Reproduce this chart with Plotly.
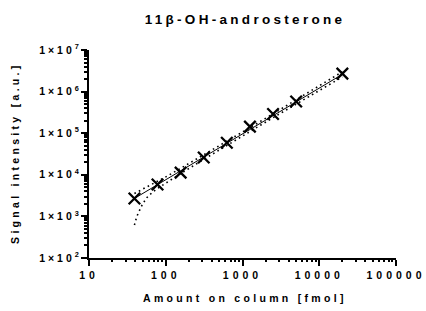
import plotly.graph_objects as go

# Measured points
amount_fmol = [39.06, 78.13, 156.25, 312.5, 625, 1250, 2500, 5000, 20000]
signal = [2700, 5850, 11300, 26000, 59000, 144000, 290000, 580000, 2700000]

# Fit line and confidence band
fit_x = [39.06, 42, 46, 50, 57, 67, 78.13, 100, 156.25, 312.5, 625, 1250, 2500, 5000, 10000, 20000]
fit_y = [2700, 2920, 3230, 3550, 4090, 4860, 5780, 7550, 12400, 26600, 57300, 122800, 263000, 565000, 1210000, 2600000]
upper_y = [3550, 3800, 4150, 4500, 5100, 5950, 6950, 8900, 14300, 30000, 63500, 136000, 292000, 635000, 1380000, 3000000]
lower_y = [620, 1000, 1450, 2000, 2850, 3800, 4700, 6350, 10700, 23500, 51500, 110500, 236000, 500000, 1060000, 2250000]

title = "11β-OH-androsterone"
x_title = "Amount on column [fmol]"
y_title = "Signal intensity [a.u.]"
x_tickvals = [10, 100, 1000, 10000, 100000]
x_ticktext = ["10", "100", "1000", "10000", "100000"]
y_tickvals = [1e2, 1e3, 1e4, 1e5, 1e6, 1e7]
y_ticktext = ["1×10<sup>2</sup>", "1×10<sup>3</sup>", "1×10<sup>4</sup>",
              "1×10<sup>5</sup>", "1×10<sup>6</sup>", "1×10<sup>7</sup>"]

FONT = "Liberation Sans, Arial, sans-serif"
W, H = 426, 311
L, R, T, B = 89, 26, 50, 53
pw, ph = W - L - R, H - T - B

x_minor = [m * 10 ** e for e in range(1, 5) for m in range(2, 10)]
y_minor = [m * 10 ** e for e in range(2, 7) for m in range(2, 10)]

fig = go.Figure()
fig.add_trace(go.Scatter(x=fit_x, y=upper_y, mode="lines",
                         line=dict(color="black", width=1.6, dash="1.6px,3.4px"), showlegend=False))
fig.add_trace(go.Scatter(x=fit_x, y=lower_y, mode="lines",
                         line=dict(color="black", width=1.6, dash="1.6px,3.4px"), showlegend=False))
fig.add_trace(go.Scatter(x=fit_x, y=fit_y, mode="lines",
                         line=dict(color="black", width=1), showlegend=False))
fig.add_trace(go.Scatter(x=amount_fmol, y=signal, mode="markers",
                         marker=dict(symbol="x-thin", size=11.5, color="black",
                                     line=dict(color="black", width=2.3)),
                         showlegend=False))
# invisible trace to activate minor-tick axes
fig.add_trace(go.Scatter(x=[fit_x[0]], y=[fit_y[0]], xaxis="x2", yaxis="y2",
                         mode="markers", marker=dict(opacity=0), showlegend=False,
                         hoverinfo="skip"))

common = dict(showgrid=False, zeroline=False, tickcolor="black")
fig.update_layout(
    width=W, height=H,
    margin=dict(l=L, r=R, t=T, b=B),
    paper_bgcolor="white", plot_bgcolor="white",
    font=dict(family=FONT, color="black", size=10.5),
    title=dict(text="<b>" + title + "</b>", x=245 / W, xanchor="center",
               y=1 - 19 / H, yanchor="middle",
               font=dict(size=13.5, family=FONT, color="black")),
    xaxis=dict(type="log", range=[1, 5], tickvals=x_tickvals,
               ticktext=["<b>" + t + "</b>" for t in x_ticktext],
               showline=True, linecolor="black", linewidth=2,
               ticks="outside", ticklen=6, tickwidth=2,
               tickfont=dict(size=10.5, family=FONT), **common),
    yaxis=dict(type="log", range=[2, 7], tickvals=y_tickvals,
               ticktext=["<b>" + t + "</b>" for t in y_ticktext],
               showline=True, linecolor="black", linewidth=2,
               ticks="outside", ticklen=6, tickwidth=2, ticklabelstandoff=-3,
               tickfont=dict(size=10.5, family=FONT), **common),
    xaxis2=dict(type="log", range=[1, 5], overlaying="x", side="bottom",
                anchor="y", tickvals=x_minor, showticklabels=False,
                ticks="outside", ticklen=3, tickwidth=1.5, showline=False, **common),
    yaxis2=dict(type="log", range=[2, 7], overlaying="y", side="left",
                anchor="x", tickvals=y_minor, showticklabels=False,
                ticks="outside", ticklen=4, tickwidth=1.5, showline=False, **common),
    annotations=[
        dict(text="<b>" + x_title + "</b>", x=(247 - L) / pw, y=(H - B - 298) / ph,
             xref="paper", yref="paper", xanchor="center", yanchor="middle",
             showarrow=False, font=dict(size=10.5, family=FONT)),
        dict(text="<b>" + y_title + "</b>", x=(14 - L) / pw, y=(H - B - 153) / ph,
             xref="paper", yref="paper", xanchor="center", yanchor="middle",
             textangle=-90, showarrow=False, font=dict(size=10.5, family=FONT)),
    ],
)

post = """
document.body.style.margin = '0';
document.body.style.padding = '0';
var gd = document.getElementById('{plot_id}');
function spacing(){
  function ls(sel, v){ gd.querySelectorAll(sel).forEach(function(t){ t.style.letterSpacing = v; }); }
  ls('.gtitle', '3.3px');
  ls('.xtick text', '4px');
  ls('.ytick text', '3px');
  ls('.annotation-text', '3.3px');
}
spacing();
setTimeout(spacing, 0);
if (gd && gd.on) { gd.on('plotly_afterplot', spacing); }
"""
fig.write_html("out.html", post_script=post, config={"displayModeBar": False})
